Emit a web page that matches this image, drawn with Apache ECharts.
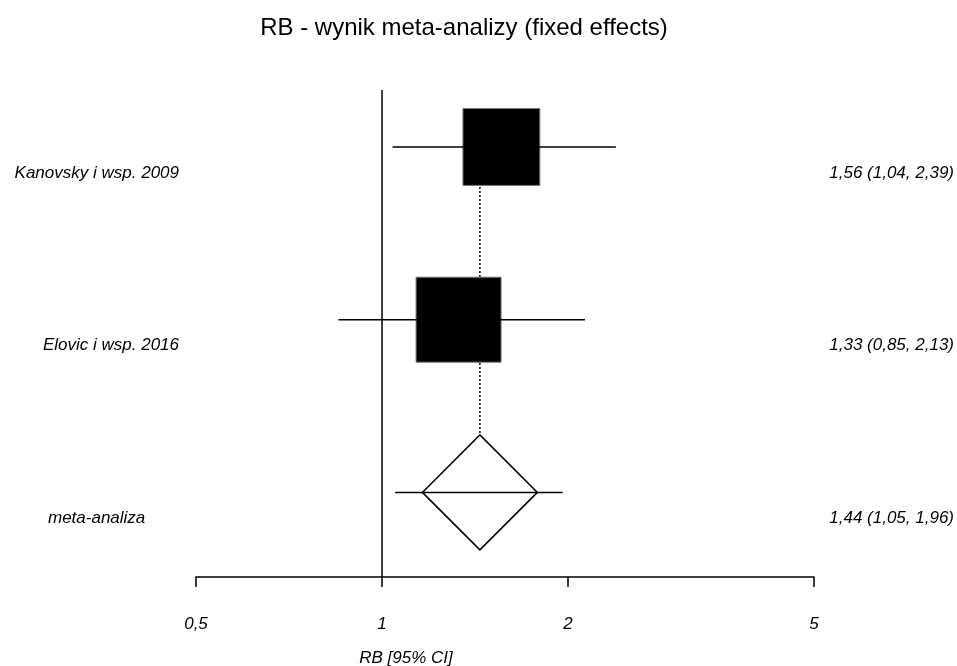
<!DOCTYPE html>
<html>
<head>
<meta charset="utf-8">
<script src="https://cdn.jsdelivr.net/npm/echarts@6/dist/echarts.min.js"></script>
<style>
html,body{margin:0;padding:0;background:#fff;}
#chart{width:957px;height:666px;}
</style>
</head>
<body>
<div id="chart"></div>
<script>
// ---- data ----
const studies = ['Kanovsky i wsp. 2009', 'Elovic i wsp. 2016', 'meta-analiza'];
const rb = [1.56, 1.33, 1.44];
const ciLow = [1.04, 0.85, 1.05];
const ciHigh = [2.39, 2.13, 1.96];
const weights = [45, 55];           // study weights (%), box area
const pooledIndex = 2;
const tickValues = [0.5, 1, 2, 5];
const tickLabels = ['0,5', '1', '2', '5'];
const nullValue = 1;
const titleText = 'RB - wynik meta-analizy (fixed effects)';
const axisTitle = 'RB [95% CI]';

// ---- helpers ----
const L = v => Math.log10(v);
const fmt = v => v.toFixed(2).replace('.', ',');
const FONT = '"Liberation Sans", Arial, sans-serif';
const yMin = 0.67, yMax = 3.49;
const maxBox = 85;

const rows = studies.map((s, i) => i + 1);
const ciData = studies.map((s, i) => [L(ciLow[i]), L(ciHigh[i]), rows[i]]);
const boxData = weights.map((w, i) => ({
  value: [L(rb[i]), rows[i]],
  symbolSize: maxBox * Math.sqrt(w / Math.max.apply(null, weights))
}));
const diamondData = [[L(rb[pooledIndex]), rows[pooledIndex]]];
const labelData = studies.map((s, i) => [L(rb[i]), rows[i], i]);

const chart = echarts.init(document.getElementById('chart'), null, {renderer: 'canvas'});

const option = {
  animation: false,
  backgroundColor: '#fff',
  title: {
    text: titleText,
    left: 459,
    top: 11,
    textAlign: 'center',
    textStyle: {fontFamily: FONT, fontSize: 24, fontWeight: 'normal', color: '#000'}
  },
  grid: {left: 196, right: 143, top: 90, bottom: 89},
  xAxis: {
    type: 'value',
    min: L(tickValues[0]),
    max: L(tickValues[tickValues.length - 1]),
    axisLine: {show: true, onZero: false, lineStyle: {color: '#000', width: 1.5}},
    axisTick: {show: true, inside: false, length: 10, lineStyle: {color: '#000', width: 1.5},
      customValues: tickValues.map(L)},
    axisLabel: {
      customValues: tickValues.map(L),
      margin: 39,
      color: '#000',
      fontFamily: FONT,
      fontSize: 17,
      fontStyle: 'italic',
      formatter: v => {
        const i = tickValues.findIndex(t => Math.abs(L(t) - v) < 1e-6);
        return i >= 0 ? tickLabels[i] : '';
      }
    },
    splitLine: {show: false}
  },
  yAxis: {
    type: 'value', inverse: true, min: yMin, max: yMax, show: false,
    splitLine: {show: false}
  },
  series: [
    { // null line
      type: 'custom', z: 1,
      data: [[L(nullValue)]],
      renderItem: (params, api) => {
        const a = api.coord([api.value(0), yMin]);
        const b = api.coord([api.value(0), yMax]);
        return {type: 'line', shape: {x1: a[0], y1: a[1], x2: b[0], y2: b[1]},
          style: {stroke: '#000', lineWidth: 1.5}};
      }
    },
    { // dotted line at pooled estimate
      type: 'custom', z: 2,
      data: [[L(rb[pooledIndex]), rows[0], rows[pooledIndex]]],
      renderItem: (params, api) => {
        const a = api.coord([api.value(0), api.value(1)]);
        const b = api.coord([api.value(0), api.value(2)]);
        return {type: 'line', shape: {x1: a[0], y1: a[1], x2: b[0], y2: b[1]},
          style: {stroke: '#000', lineWidth: 1.5, lineDash: [2, 2]}};
      }
    },
    { // study boxes
      type: 'scatter', z: 3,
      symbol: 'rect',
      data: boxData,
      itemStyle: {color: '#000', borderColor: '#777', borderWidth: 1, opacity: 1},
      emphasis: {disabled: true}
    },
    { // pooled diamond
      type: 'scatter', z: 3,
      symbol: 'diamond',
      symbolSize: 115,
      data: diamondData,
      itemStyle: {color: '#fff', borderColor: '#000', borderWidth: 1.5, opacity: 1},
      emphasis: {disabled: true}
    },
    { // CI lines
      type: 'custom', z: 5,
      data: ciData,
      renderItem: (params, api) => {
        const a = api.coord([api.value(0), api.value(2)]);
        const b = api.coord([api.value(1), api.value(2)]);
        return {type: 'line', z2: 10, shape: {x1: a[0], y1: a[1], x2: b[0], y2: b[1]},
          style: {stroke: '#000', lineWidth: 1.5}};
      }
    },
    { // left labels & right values
      type: 'custom', z: 5,
      data: labelData,
      renderItem: (params, api) => {
        const i = api.value(2);
        const p = api.coord([api.value(0), api.value(1)]);
        const y = p[1] + 26;
        const font = 'italic 17px ' + FONT;
        const isPooled = i === pooledIndex;
        return {type: 'group', children: [
          {type: 'text', style: {
            text: studies[i],
            x: isPooled ? 48 : 179, y: y,
            align: isPooled ? 'left' : 'right', verticalAlign: 'middle',
            font: font, fill: '#000'}},
          {type: 'text', style: {
            text: fmt(rb[i]) + ' (' + fmt(ciLow[i]) + ', ' + fmt(ciHigh[i]) + ')',
            x: 954, y: y, align: 'right', verticalAlign: 'middle',
            font: font, fill: '#000'}}
        ]};
      }
    },
    { // axis title
      type: 'custom', z: 5,
      data: [[L(nullValue), yMax]],
      renderItem: (params, api) => {
        const p = api.coord([api.value(0), api.value(1)]);
        return {type: 'text', style: {
          text: axisTitle, x: p[0] + 24, y: p[1] + 81,
          align: 'center', verticalAlign: 'middle',
          font: 'italic 17px ' + FONT, fill: '#000'}};
      }
    }
  ]
};
chart.setOption(option);
</script>
</body>
</html>
